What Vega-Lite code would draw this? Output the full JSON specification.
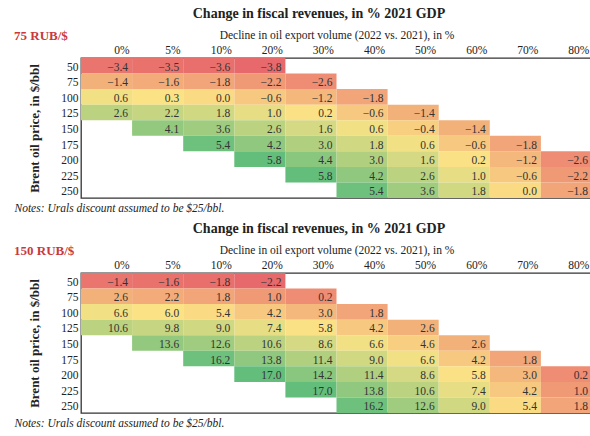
{
  "$schema": "https://vega.github.io/schema/vega-lite/v6.json",
  "padding": {"left": 13, "top": 7, "right": 0, "bottom": 0},
  "background": "white",
  "config": {
    "view": {"stroke": "#333", "strokeWidth": 1.3},
    "font": "Liberation Serif",
    "concat": {"spacing": 7}
  },
  "datasets": {
    "t75": [
      {"price": "50", "decline": "0%", "value": -3.4}, {"price": "50", "decline": "5%", "value": -3.5}, {"price": "50", "decline": "10%", "value": -3.6}, {"price": "50", "decline": "20%", "value": -3.8},
      {"price": "75", "decline": "0%", "value": -1.4}, {"price": "75", "decline": "5%", "value": -1.6}, {"price": "75", "decline": "10%", "value": -1.8}, {"price": "75", "decline": "20%", "value": -2.2}, {"price": "75", "decline": "30%", "value": -2.6},
      {"price": "100", "decline": "0%", "value": 0.6}, {"price": "100", "decline": "5%", "value": 0.3}, {"price": "100", "decline": "10%", "value": 0.0}, {"price": "100", "decline": "20%", "value": -0.6}, {"price": "100", "decline": "30%", "value": -1.2}, {"price": "100", "decline": "40%", "value": -1.8},
      {"price": "125", "decline": "0%", "value": 2.6}, {"price": "125", "decline": "5%", "value": 2.2}, {"price": "125", "decline": "10%", "value": 1.8}, {"price": "125", "decline": "20%", "value": 1.0}, {"price": "125", "decline": "30%", "value": 0.2}, {"price": "125", "decline": "40%", "value": -0.6}, {"price": "125", "decline": "50%", "value": -1.4},
      {"price": "150", "decline": "5%", "value": 4.1}, {"price": "150", "decline": "10%", "value": 3.6}, {"price": "150", "decline": "20%", "value": 2.6}, {"price": "150", "decline": "30%", "value": 1.6}, {"price": "150", "decline": "40%", "value": 0.6}, {"price": "150", "decline": "50%", "value": -0.4}, {"price": "150", "decline": "60%", "value": -1.4},
      {"price": "175", "decline": "10%", "value": 5.4}, {"price": "175", "decline": "20%", "value": 4.2}, {"price": "175", "decline": "30%", "value": 3.0}, {"price": "175", "decline": "40%", "value": 1.8}, {"price": "175", "decline": "50%", "value": 0.6}, {"price": "175", "decline": "60%", "value": -0.6}, {"price": "175", "decline": "70%", "value": -1.8},
      {"price": "200", "decline": "20%", "value": 5.8}, {"price": "200", "decline": "30%", "value": 4.4}, {"price": "200", "decline": "40%", "value": 3.0}, {"price": "200", "decline": "50%", "value": 1.6}, {"price": "200", "decline": "60%", "value": 0.2}, {"price": "200", "decline": "70%", "value": -1.2}, {"price": "200", "decline": "80%", "value": -2.6},
      {"price": "225", "decline": "30%", "value": 5.8}, {"price": "225", "decline": "40%", "value": 4.2}, {"price": "225", "decline": "50%", "value": 2.6}, {"price": "225", "decline": "60%", "value": 1.0}, {"price": "225", "decline": "70%", "value": -0.6}, {"price": "225", "decline": "80%", "value": -2.2},
      {"price": "250", "decline": "40%", "value": 5.4}, {"price": "250", "decline": "50%", "value": 3.6}, {"price": "250", "decline": "60%", "value": 1.8}, {"price": "250", "decline": "70%", "value": 0.0}, {"price": "250", "decline": "80%", "value": -1.8}
    ],
    "t150": [
      {"price": "50", "decline": "0%", "value": -1.4}, {"price": "50", "decline": "5%", "value": -1.6}, {"price": "50", "decline": "10%", "value": -1.8}, {"price": "50", "decline": "20%", "value": -2.2},
      {"price": "75", "decline": "0%", "value": 2.6}, {"price": "75", "decline": "5%", "value": 2.2}, {"price": "75", "decline": "10%", "value": 1.8}, {"price": "75", "decline": "20%", "value": 1.0}, {"price": "75", "decline": "30%", "value": 0.2},
      {"price": "100", "decline": "0%", "value": 6.6}, {"price": "100", "decline": "5%", "value": 6.0}, {"price": "100", "decline": "10%", "value": 5.4}, {"price": "100", "decline": "20%", "value": 4.2}, {"price": "100", "decline": "30%", "value": 3.0}, {"price": "100", "decline": "40%", "value": 1.8},
      {"price": "125", "decline": "0%", "value": 10.6}, {"price": "125", "decline": "5%", "value": 9.8}, {"price": "125", "decline": "10%", "value": 9.0}, {"price": "125", "decline": "20%", "value": 7.4}, {"price": "125", "decline": "30%", "value": 5.8}, {"price": "125", "decline": "40%", "value": 4.2}, {"price": "125", "decline": "50%", "value": 2.6},
      {"price": "150", "decline": "5%", "value": 13.6}, {"price": "150", "decline": "10%", "value": 12.6}, {"price": "150", "decline": "20%", "value": 10.6}, {"price": "150", "decline": "30%", "value": 8.6}, {"price": "150", "decline": "40%", "value": 6.6}, {"price": "150", "decline": "50%", "value": 4.6}, {"price": "150", "decline": "60%", "value": 2.6},
      {"price": "175", "decline": "10%", "value": 16.2}, {"price": "175", "decline": "20%", "value": 13.8}, {"price": "175", "decline": "30%", "value": 11.4}, {"price": "175", "decline": "40%", "value": 9.0}, {"price": "175", "decline": "50%", "value": 6.6}, {"price": "175", "decline": "60%", "value": 4.2}, {"price": "175", "decline": "70%", "value": 1.8},
      {"price": "200", "decline": "20%", "value": 17.0}, {"price": "200", "decline": "30%", "value": 14.2}, {"price": "200", "decline": "40%", "value": 11.4}, {"price": "200", "decline": "50%", "value": 8.6}, {"price": "200", "decline": "60%", "value": 5.8}, {"price": "200", "decline": "70%", "value": 3.0}, {"price": "200", "decline": "80%", "value": 0.2},
      {"price": "225", "decline": "30%", "value": 17.0}, {"price": "225", "decline": "40%", "value": 13.8}, {"price": "225", "decline": "50%", "value": 10.6}, {"price": "225", "decline": "60%", "value": 7.4}, {"price": "225", "decline": "70%", "value": 4.2}, {"price": "225", "decline": "80%", "value": 1.0},
      {"price": "250", "decline": "40%", "value": 16.2}, {"price": "250", "decline": "50%", "value": 12.6}, {"price": "250", "decline": "60%", "value": 9.0}, {"price": "250", "decline": "70%", "value": 5.4}, {"price": "250", "decline": "80%", "value": 1.8}
    ]
  },
  "resolve": {"scale": {"color": "independent"}},
  "vconcat": [
    {
      "title": {"text": "Change in fiscal revenues, in % 2021 GDP", "fontSize": 14, "fontWeight": "bold", "color": "#222", "anchor": "middle", "frame": "bounds", "dx": 16, "offset": 7},
      "vconcat": [
        {
          "width": 511,
          "height": 140,
          "title": {"text": "75 RUB/$", "fontSize": 13, "fontWeight": "bold", "color": "#c9393c", "anchor": "start", "frame": "bounds", "offset": -14},
          "data": {"name": "t75"},
          "resolve": {"axis": {"x": "independent"}},
          "encoding": {
            "y": {"field": "price", "type": "ordinal", "sort": ["50", "75", "100", "125", "150", "175", "200", "225", "250"], "scale": {"paddingInner": 0, "paddingOuter": 0},
              "axis": {"orient": "left", "title": "Brent oil price, in $/bbl", "titleFontWeight": "bold", "titleFontSize": 13, "titleColor": "#222", "titlePadding": 19, "labelFontSize": 11.5, "labelColor": "#222", "labelPadding": 3, "labelOffset": 2, "ticks": false, "domain": false}}
          },
          "layer": [
            {
              "mark": {"type": "rect"},
              "encoding": {
                "x": {"field": "decline", "type": "ordinal", "sort": ["0%", "5%", "10%", "20%", "30%", "40%", "50%", "60%", "70%", "80%"], "scale": {"paddingInner": 0, "paddingOuter": 0},
                  "axis": {"orient": "top", "title": "Decline in oil export volume (2022 vs. 2021), in %", "titleFontWeight": "normal", "titleFontSize": 11.5, "titleColor": "#222", "titlePadding": 4, "labelAngle": 0, "labelAlign": "right", "labelOffset": 23, "labelFontSize": 11.5, "labelColor": "#222", "labelPadding": 3, "ticks": false, "domain": false}},
                "color": {"field": "value", "type": "quantitative", "scale": {"domain": [-3.8, 0.25, 5.8], "range": ["#e8696b", "#fbe285", "#63be7b"], "interpolate": "rgb"}, "legend": null}
              }
            },
            {
              "mark": {"type": "text", "align": "right", "dx": -4, "dy": 2, "fontSize": 11.5, "color": "#333"},
              "encoding": {
                "x": {"field": "decline", "type": "ordinal", "bandPosition": 1, "sort": ["0%", "5%", "10%", "20%", "30%", "40%", "50%", "60%", "70%", "80%"],
                  "axis": {"orient": "bottom", "title": "Notes: Urals discount assumed to be $25/bbl.", "titleFontStyle": "italic", "titleFontWeight": "normal", "titleFontSize": 11.5, "titleColor": "#222", "titleAnchor": "start", "titleAlign": "left", "titleBaseline": "middle", "titleX": -67, "titleY": 10, "labels": false, "ticks": false, "domain": false}},
                "text": {"field": "value", "type": "quantitative", "format": ".1f"}
              }
            }
          ]
        }
      ]
    },
    {
      "title": {"text": "Change in fiscal revenues, in % 2021 GDP", "fontSize": 14, "fontWeight": "bold", "color": "#222", "anchor": "middle", "frame": "bounds", "dx": 16, "offset": 7},
      "vconcat": [
        {
          "width": 511,
          "height": 140,
          "title": {"text": "150 RUB/$", "fontSize": 13, "fontWeight": "bold", "color": "#c9393c", "anchor": "start", "frame": "bounds", "offset": -14},
          "data": {"name": "t150"},
          "resolve": {"axis": {"x": "independent"}},
          "encoding": {
            "y": {"field": "price", "type": "ordinal", "sort": ["50", "75", "100", "125", "150", "175", "200", "225", "250"], "scale": {"paddingInner": 0, "paddingOuter": 0},
              "axis": {"orient": "left", "title": "Brent oil price, in $/bbl", "titleFontWeight": "bold", "titleFontSize": 13, "titleColor": "#222", "titlePadding": 19, "labelFontSize": 11.5, "labelColor": "#222", "labelPadding": 3, "labelOffset": 2, "ticks": false, "domain": false}}
          },
          "layer": [
            {
              "mark": {"type": "rect"},
              "encoding": {
                "x": {"field": "decline", "type": "ordinal", "sort": ["0%", "5%", "10%", "20%", "30%", "40%", "50%", "60%", "70%", "80%"], "scale": {"paddingInner": 0, "paddingOuter": 0},
                  "axis": {"orient": "top", "title": "Decline in oil export volume (2022 vs. 2021), in %", "titleFontWeight": "normal", "titleFontSize": 11.5, "titleColor": "#222", "titlePadding": 4, "labelAngle": 0, "labelAlign": "right", "labelOffset": 23, "labelFontSize": 11.5, "labelColor": "#222", "labelPadding": 3, "ticks": false, "domain": false}},
                "color": {"field": "value", "type": "quantitative", "scale": {"domain": [-2.2, 5.9, 17.0], "range": ["#e8696b", "#fbe285", "#63be7b"], "interpolate": "rgb"}, "legend": null}
              }
            },
            {
              "mark": {"type": "text", "align": "right", "dx": -4, "dy": 2, "fontSize": 11.5, "color": "#333"},
              "encoding": {
                "x": {"field": "decline", "type": "ordinal", "bandPosition": 1, "sort": ["0%", "5%", "10%", "20%", "30%", "40%", "50%", "60%", "70%", "80%"],
                  "axis": {"orient": "bottom", "title": "Notes: Urals discount assumed to be $25/bbl.", "titleFontStyle": "italic", "titleFontWeight": "normal", "titleFontSize": 11.5, "titleColor": "#222", "titleAnchor": "start", "titleAlign": "left", "titleBaseline": "middle", "titleX": -67, "titleY": 10, "labels": false, "ticks": false, "domain": false}},
                "text": {"field": "value", "type": "quantitative", "format": ".1f"}
              }
            }
          ]
        }
      ]
    }
  ]
}
